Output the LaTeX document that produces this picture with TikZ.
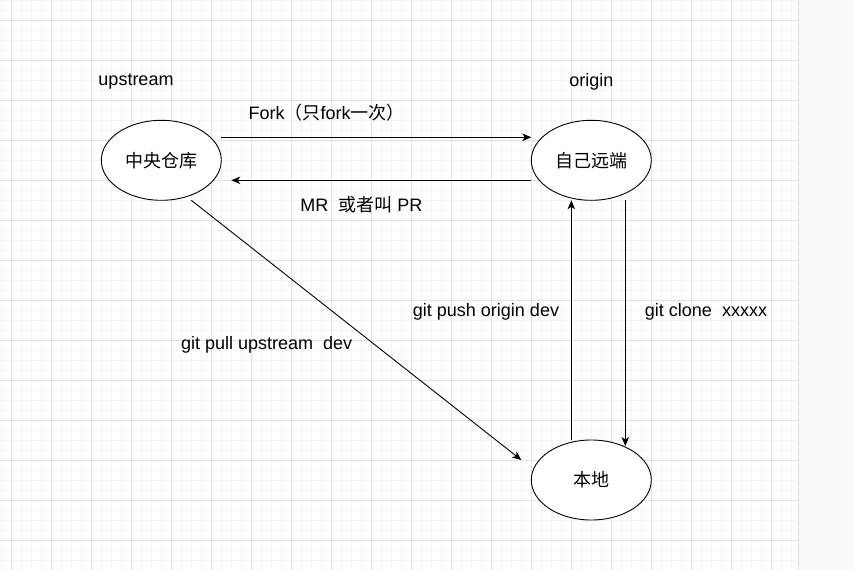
\documentclass[tikz,border=0pt]{standalone}
\usepackage{fontspec}
\setmainfont{Liberation Sans}
\newfontfamily\cjk{Noto Sans CJK SC}
\usepackage{tikz}
\usetikzlibrary{shapes,arrows,arrows.meta,positioning,calc}
\definecolor{majorgrid}{HTML}{E0E0E0}
\definecolor{minorgrid}{HTML}{F4F4F4}
\definecolor{panel}{HTML}{FAFAFA}
\begin{document}
\begin{tikzpicture}[x=1pt, y=-1pt, >={Stealth[length=9pt,width=7.5pt,inset=2.5pt]},
    repo/.style={ellipse, draw, fill=white, line width=0.9pt, minimum width=120pt, minimum height=80pt, inner sep=0pt, outer sep=0pt, font=\fontsize{18}{20}\selectfont\cjk},
    lbl/.style={inner sep=0pt, yshift=-2pt, font=\fontsize{18}{20}\selectfont},
    conn/.style={line width=0.9pt}]
  \useasboundingbox (0,0) rectangle (854,570);
  % background grid
  \fill[white] (0,0) rectangle (798,570);
  \foreach \x in {0,...,79} {
    \draw[minorgrid, line width=0.8pt] (1.7+10*\x,0) -- (1.7+10*\x,570);
  }
  \foreach \y in {0,...,57} {
    \draw[minorgrid, line width=0.8pt] (0,10*\y) -- (798,10*\y);
  }
  \foreach \x in {0,...,19} {
    \draw[majorgrid, line width=0.9pt] (11.7+40*\x,0) -- (11.7+40*\x,570);
  }
  \foreach \y in {0,...,13} {
    \draw[majorgrid, line width=0.9pt] (0,20+40*\y) -- (798,20+40*\y);
  }
  \fill[panel] (798,0) rectangle (854,570);
  \draw[majorgrid, line width=1.5pt] (798.5,0) -- (798.5,570);

  % repositories
  \node [repo] (central) at (161.3,160.3) {中央仓库};
  \node [repo] (remote) at (591.3,160.3) {自己远端};
  \node [repo] (local) at (591.3,480) {本地};

  % labels
  \node [lbl] (upstreamlbl) at (136,80) {upstream};
  \node [lbl] (originlbl) at (591.3,80) {origin};
  \node [lbl] (forklbl) at (326.7,111) {Fork{\cjk（只}fork{\cjk 一次）}};
  \node [lbl] (mrlbl) at (361.3,203) {MR\ \ {\cjk 或者叫} PR};
  \node [lbl] (pulllbl) at (266.7,343) {git pull upstream\ \ dev};
  \node [lbl] (pushlbl) at (486,310) {git push origin dev};
  \node [lbl] (clonelbl) at (706,309.5) {git clone\ \ xxxxx};

  % connectors
  \draw [conn,->] ([yshift=23pt]central.east) -- ([yshift=23pt]remote.west);
  \draw [conn,->] ([yshift=-20pt]remote.west) -- ([xshift=10pt,yshift=-20pt]central.east);
  \draw [conn,->] ([xshift=30pt]central.south) -- ([xshift=-10pt,yshift=20pt]local.west);
  \draw [conn,->] ([xshift=-20pt]local.north) -- ([xshift=-20pt]remote.south);
  \draw [conn,->] ([xshift=34pt]remote.south) -- ([xshift=34pt,yshift=-6pt]local.north);
\end{tikzpicture}
\end{document}
